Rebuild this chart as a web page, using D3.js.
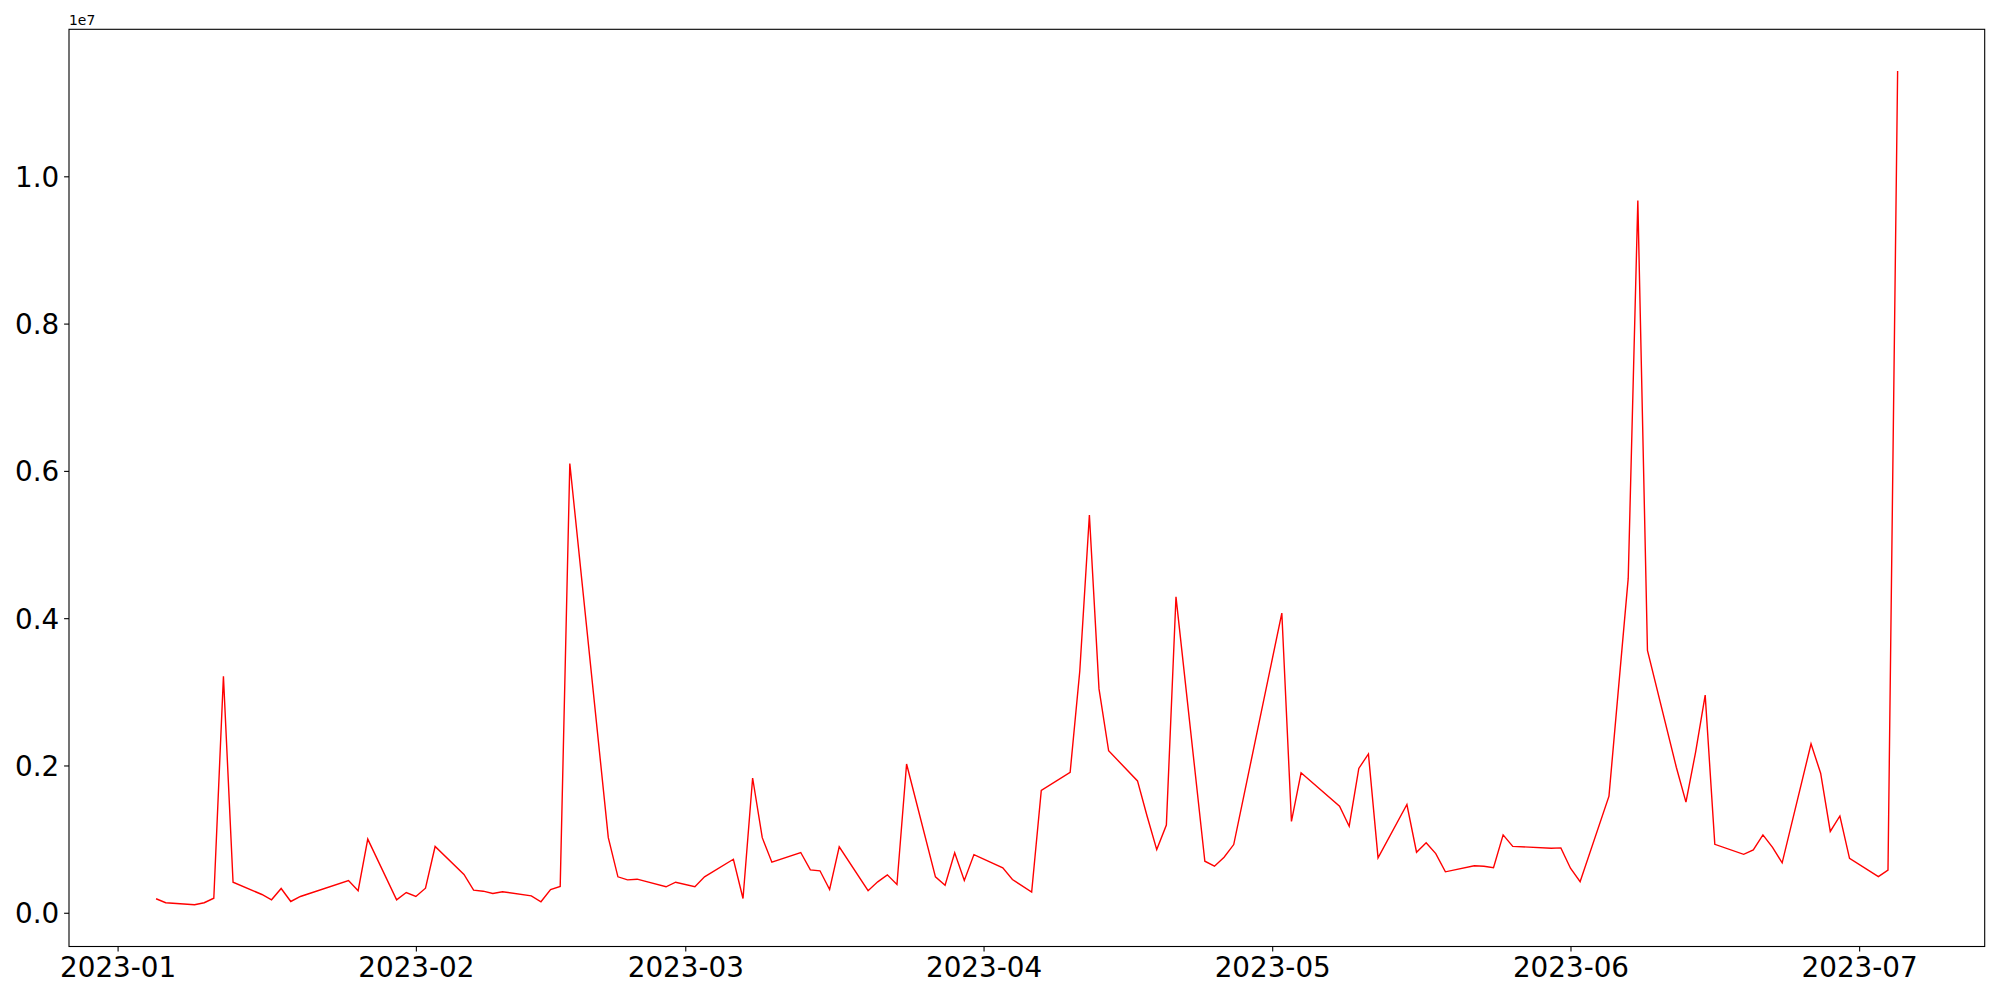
<!DOCTYPE html>
<html>
<head>
<meta charset="utf-8">
<script src="https://cdn.jsdelivr.net/npm/d3@7"></script>
<style>
  body { margin: 0; background: #fff; }
  svg { display: block; }
  text { font-family: "DejaVu Sans", sans-serif; fill: #000; }
</style>
</head>
<body>
<svg id="chart" width="2000" height="1000"></svg>
<script>
// dates (weekdays with data) and values
var dates = [
  "2023-01-05","2023-01-06","2023-01-09","2023-01-10","2023-01-11","2023-01-12","2023-01-13",
  "2023-01-16","2023-01-17","2023-01-18","2023-01-19","2023-01-20","2023-01-25","2023-01-26",
  "2023-01-27","2023-01-30","2023-01-31","2023-02-01","2023-02-02","2023-02-03","2023-02-06",
  "2023-02-07","2023-02-08","2023-02-09","2023-02-10","2023-02-13","2023-02-14","2023-02-15",
  "2023-02-16","2023-02-17","2023-02-21","2023-02-22","2023-02-23","2023-02-24","2023-02-27",
  "2023-02-28","2023-03-02","2023-03-03","2023-03-06","2023-03-07","2023-03-08","2023-03-09",
  "2023-03-10","2023-03-13","2023-03-14","2023-03-15","2023-03-16","2023-03-17","2023-03-20",
  "2023-03-21","2023-03-22","2023-03-23","2023-03-24","2023-03-27","2023-03-28","2023-03-29",
  "2023-03-30","2023-03-31","2023-04-03","2023-04-04","2023-04-06","2023-04-07","2023-04-10",
  "2023-04-11","2023-04-12","2023-04-13","2023-04-14","2023-04-17","2023-04-18","2023-04-19",
  "2023-04-20","2023-04-21","2023-04-24","2023-04-25","2023-04-26","2023-04-27","2023-05-02",
  "2023-05-03","2023-05-04","2023-05-08","2023-05-09","2023-05-10","2023-05-11","2023-05-12",
  "2023-05-15","2023-05-16","2023-05-17","2023-05-18","2023-05-19","2023-05-22","2023-05-23",
  "2023-05-24","2023-05-25","2023-05-26","2023-05-30","2023-05-31","2023-06-01","2023-06-02",
  "2023-06-05","2023-06-07","2023-06-08","2023-06-09","2023-06-12","2023-06-13","2023-06-14",
  "2023-06-15","2023-06-16","2023-06-19","2023-06-20","2023-06-21","2023-06-22","2023-06-23",
  "2023-06-26","2023-06-27","2023-06-28","2023-06-29","2023-06-30","2023-07-03","2023-07-04",
  "2023-07-05"
];
// values in millions
var values = [
  0.19, 0.136, 0.108, 0.136, 0.198, 3.21, 0.415,
  0.248, 0.176, 0.33, 0.153, 0.221, 0.438, 0.30,
  1.00, 0.176, 0.275, 0.221, 0.334, 0.90, 0.52,
  0.307, 0.293, 0.262, 0.285, 0.23, 0.149, 0.316,
  0.357, 6.10, 1.02, 0.488, 0.447, 0.456, 0.353,
  0.415, 0.353, 0.488, 0.727, 0.194, 1.83, 1.02,
  0.687, 0.818, 0.583, 0.57, 0.316, 0.895, 0.30,
  0.42, 0.515, 0.384, 2.02, 0.488, 0.374, 0.814,
  0.438, 0.79, 0.61, 0.452, 0.28, 1.66, 1.907,
  3.28, 5.40, 3.04, 2.20, 1.79, 1.31, 0.858,
  1.19, 4.29, 0.70, 0.632, 0.754, 0.926, 4.07,
  1.24, 1.90, 1.446, 1.175, 1.96, 2.156, 0.746,
  1.47, 0.822, 0.95, 0.804, 0.556, 0.639, 0.632,
  0.612, 1.057, 0.902, 0.875, 0.881, 0.605, 0.422,
  1.584, 4.54, 9.67, 3.563, 1.976, 1.503, 2.178,
  2.955, 0.929, 0.793, 0.854, 1.057, 0.888, 0.678,
  2.293, 1.895, 1.104, 1.314, 0.739, 0.49, 0.578,
  11.43
];
var xTicks = ["2023-01-01","2023-02-01","2023-03-01","2023-04-01","2023-05-01","2023-06-01","2023-07-01"];
var yTicks = [0, 2e6, 4e6, 6e6, 8e6, 1e7];

var parse = d3.utcParse("%Y-%m-%d");
var data = dates.map(function(d, i){ return {date: parse(d), value: values[i] * 1e6}; });

var svg = d3.select('#chart');
var plotL = 69, plotR = 1984.7, plotT = 29.3, plotB = 946.5;

// matplotlib style 5% margins
var xExt = d3.extent(data, function(d){ return +d.date; });
var xPad = (xExt[1] - xExt[0]) * 0.05;
var yExt = d3.extent(data, function(d){ return d.value; });
var yPad = (yExt[1] - yExt[0]) * 0.05;

var x = d3.scaleUtc()
  .domain([new Date(xExt[0] - xPad), new Date(xExt[1] + xPad)])
  .range([plotL, plotR]);
var y = d3.scaleLinear()
  .domain([yExt[0] - yPad, yExt[1] + yPad])
  .range([plotB, plotT]);

var line = d3.line()
  .x(function(d){ return x(d.date); })
  .y(function(d){ return y(d.value); });

svg.append('path')
  .datum(data)
  .attr('d', line)
  .attr('fill', 'none')
  .attr('stroke', 'red')
  .attr('stroke-width', 1.4)
  .attr('stroke-linejoin', 'miter');

var xAxis = d3.axisBottom(x)
  .tickValues(xTicks.map(parse))
  .tickFormat(d3.utcFormat('%Y-%m'))
  .tickSize(4.9).tickPadding(4.9);
var gx = svg.append('g')
  .attr('transform', 'translate(0,' + plotB + ')')
  .call(xAxis);

var yAxis = d3.axisLeft(y)
  .tickValues(yTicks)
  .tickFormat(function(d){ return (d / 1e7).toFixed(1); })
  .tickSize(4.9).tickPadding(4.9);
var gy = svg.append('g')
  .attr('transform', 'translate(' + plotL + ',0)')
  .call(yAxis);

[gx, gy].forEach(function(g){
  g.select('.domain').remove();
  g.selectAll('.tick line').attr('stroke', '#000').attr('stroke-width', 1.1);
  g.selectAll('.tick text')
    .style('font-family', '"DejaVu Sans", sans-serif')
    .style('font-size', '27.8px');
});
gy.selectAll('.tick text').attr('dy', '0.36em');
gx.selectAll('.tick text').attr('dy', '0.76em');

// frame
svg.append('rect')
  .attr('x', plotL).attr('y', plotT)
  .attr('width', plotR - plotL).attr('height', plotB - plotT)
  .attr('fill', 'none').attr('stroke', '#000').attr('stroke-width', 1.1);

// offset text
svg.append('text')
  .attr('x', plotL).attr('y', plotT - 4)
  .style('font-size', '13.9px')
  .text('1e7');
</script>
</body>
</html>
